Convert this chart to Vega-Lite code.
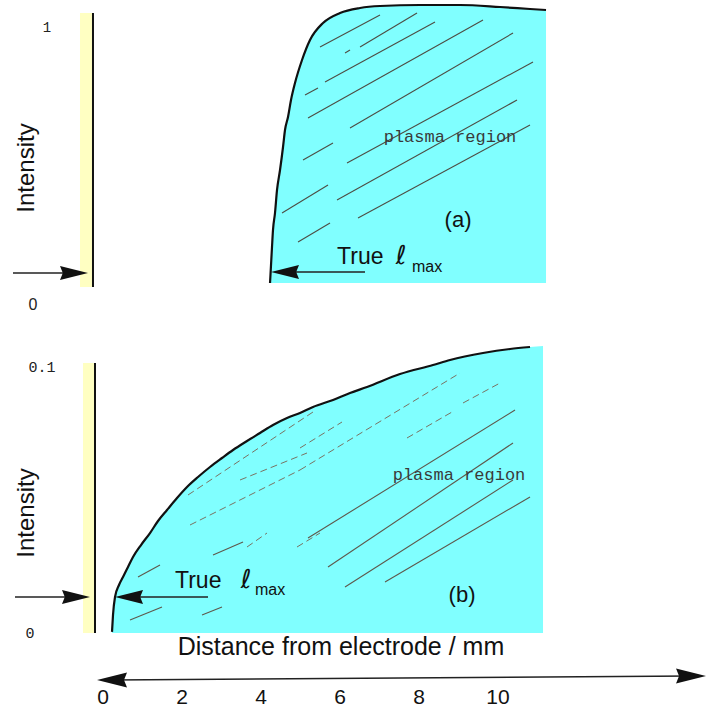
{
  "$schema": "https://vega.github.io/schema/vega-lite/v6.json",
  "padding": 0,
  "background": "white",
  "spacing": 0,
  "config": {"view": {"stroke": null}, "font": "Liberation Sans"},
  "datasets": {
    "topBar": [{"d": -0.570, "d2": -0.241, "i": 1.054, "i2": 0.065}],
    "topWall": [{"d": -0.241, "i": 1.054, "i2": 0.065}],
    "topCurve": [
      {"d": 4.241, "i": 0.0794}, {"d": 4.266, "i": 0.1444}, {"d": 4.291, "i": 0.2094}, {"d": 4.316, "i": 0.2708},
      {"d": 4.367, "i": 0.3321}, {"d": 4.418, "i": 0.4152}, {"d": 4.494, "i": 0.4874}, {"d": 4.570, "i": 0.5704},
      {"d": 4.620, "i": 0.6318}, {"d": 4.696, "i": 0.6787}, {"d": 4.772, "i": 0.7401}, {"d": 4.873, "i": 0.8014},
      {"d": 5.051, "i": 0.8845}, {"d": 5.253, "i": 0.9567}, {"d": 5.582, "i": 1.0181}, {"d": 6.013, "i": 1.0542},
      {"d": 6.519, "i": 1.0722}, {"d": 7.025, "i": 1.0794}, {"d": 8.038, "i": 1.0830}, {"d": 9.051, "i": 1.0830},
      {"d": 10.063, "i": 1.0758}, {"d": 10.823, "i": 1.0686}, {"d": 11.228, "i": 1.0650}
    ],
    "topHatch": [
      {"d": 5.5063, "i": 0.9314, "d2": 7.0253, "i2": 1.0469},
      {"d": 6.1392, "i": 0.9097, "d2": 6.2658, "i2": 0.9206},
      {"d": 6.5190, "i": 0.9314, "d2": 7.9620, "i2": 1.0542},
      {"d": 5.1266, "i": 0.7581, "d2": 5.4557, "i2": 0.7834},
      {"d": 5.6329, "i": 0.8051, "d2": 8.4177, "i2": 1.0217},
      {"d": 5.2025, "i": 0.6751, "d2": 9.6329, "i2": 1.0289},
      {"d": 6.2658, "i": 0.6390, "d2": 10.3924, "i2": 0.9819},
      {"d": 5.0759, "i": 0.5235, "d2": 5.8354, "i2": 0.5848},
      {"d": 6.1899, "i": 0.5126, "d2": 10.8987, "i2": 0.8773},
      {"d": 5.9367, "i": 0.3791, "d2": 10.4937, "i2": 0.7401},
      {"d": 4.5443, "i": 0.3321, "d2": 5.7089, "i2": 0.4332},
      {"d": 6.4684, "i": 0.3141, "d2": 10.8228, "i2": 0.6498},
      {"d": 4.9494, "i": 0.2274, "d2": 5.7595, "i2": 0.2960}
    ],
    "topArrowLines": [
      {"d": -2.266, "d2": -0.72, "i": 0.1155, "i2": 0.1155},
      {"d": 6.646, "d2": 4.62, "i": 0.1191, "i2": 0.1191}
    ],
    "topHeads": [
      {"d": -0.7215, "i": 0.1155, "dir": "right"},
      {"d": 4.620, "i": 0.1191, "dir": "left"}
    ],
    "bottomBar": [{"d": -0.494, "d2": -0.215, "i": 0.1015, "i2": 0.0}],
    "bottomWall": [{"d": -0.190, "i": 0.1015, "i2": 0.0}],
    "bottomCurve": [
      {"d": 0.2405, "i": 0.0004}, {"d": 0.2658, "i": 0.00677}, {"d": 0.3165, "i": 0.01353}, {"d": 0.4177, "i": 0.01805},
      {"d": 0.519, "i": 0.02105}, {"d": 0.6456, "i": 0.02481}, {"d": 0.7722, "i": 0.02857}, {"d": 0.9747, "i": 0.03308},
      {"d": 1.2025, "i": 0.03759}, {"d": 1.4051, "i": 0.04211}, {"d": 1.6329, "i": 0.04624}, {"d": 1.8861, "i": 0.05075},
      {"d": 2.1392, "i": 0.05489}, {"d": 2.4177, "i": 0.05865}, {"d": 2.7215, "i": 0.06241}, {"d": 3.0253, "i": 0.06579},
      {"d": 3.3038, "i": 0.0688}, {"d": 3.6582, "i": 0.07218}, {"d": 3.9873, "i": 0.07519}, {"d": 4.3165, "i": 0.0782},
      {"d": 4.6709, "i": 0.08083}, {"d": 5.0, "i": 0.08271}, {"d": 5.3291, "i": 0.08496}, {"d": 5.8354, "i": 0.08759},
      {"d": 6.2658, "i": 0.09023}, {"d": 6.6962, "i": 0.09248}, {"d": 7.5316, "i": 0.09737}, {"d": 8.3671, "i": 0.10075},
      {"d": 8.7975, "i": 0.10263}, {"d": 9.6329, "i": 0.10526}, {"d": 10.3165, "i": 0.10677}, {"d": 10.8228, "i": 0.10752},
      {"d": 11.1519, "i": 0.10789}
    ],
    "bottomHatchSolid": [
      {"d": 5.2025, "i": 0.03571, "d2": 10.4430, "i2": 0.08383},
      {"d": 5.7089, "i": 0.02481, "d2": 10.3924, "i2": 0.07143},
      {"d": 6.1392, "i": 0.01729, "d2": 10.3924, "i2": 0.05752},
      {"d": 7.1519, "i": 0.01917, "d2": 10.8228, "i2": 0.05113},
      {"d": 0.8987, "i": 0.02105, "d2": 1.4557, "i2": 0.02556},
      {"d": 0.6962, "i": 0.00489, "d2": 1.5063, "i2": 0.00977},
      {"d": 2.5190, "i": 0.00677, "d2": 3.0253, "i2": 0.00977},
      {"d": 2.7975, "i": 0.02932, "d2": 3.5570, "i2": 0.03421}
    ],
    "bottomHatchFaint": [
      {"d": 5.0, "i": 0.06128, "d2": 9.0506, "i2": 0.09774},
      {"d": 5.0, "i": 0.06955, "d2": 6.0633, "i2": 0.07932},
      {"d": 7.7089, "i": 0.07331, "d2": 8.8481, "i2": 0.08308},
      {"d": 9.1266, "i": 0.08647, "d2": 10.0633, "i2": 0.09398},
      {"d": 2.1646, "i": 0.05188, "d2": 5.3291, "i2": 0.08308},
      {"d": 2.2152, "i": 0.04060, "d2": 5.0, "i2": 0.06128},
      {"d": 3.6582, "i": 0.03233, "d2": 4.1646, "i2": 0.03759},
      {"d": 4.9241, "i": 0.03233, "d2": 5.5063, "i2": 0.03759},
      {"d": 3.4810, "i": 0.05752, "d2": 5.1772, "i2": 0.06767}
    ],
    "bottomArrowLines": [
      {"d": -2.215, "d2": -0.67, "i": 0.01353, "i2": 0.01353},
      {"d": 2.671, "d2": 0.67, "i": 0.01353, "i2": 0.01353},
      {"d": 0.2405, "d2": 14.899, "i": -0.01767, "i2": -0.01617}
    ],
    "bottomHeads": [
      {"d": -0.6709, "i": 0.01353, "dir": "right"},
      {"d": 0.6709, "i": 0.01353, "dir": "left"}
    ],
    "axisHeads": [
      {"d": 0.2405, "i": -0.01767, "dir": "left"},
      {"d": 14.899, "i": -0.01617, "dir": "right"}
    ]
  },
  "vconcat": [
    {
      "width": 706,
      "height": 320,
      "encoding": {
        "x": {"field": "d", "type": "quantitative", "scale": {"domain": [-2.595, 15.278], "nice": false, "zero": false}, "axis": null},
        "y": {"field": "i", "type": "quantitative", "scale": {"domain": [-0.05415, 1.10108], "nice": false, "zero": false}, "axis": null}
      },
      "layer": [
        {"data": {"name": "topBar"}, "mark": {"type": "rect", "fill": "#ffffc2"}, "encoding": {"x2": {"field": "d2"}, "y2": {"field": "i2"}}},
        {"data": {"name": "topWall"}, "mark": {"type": "rule", "stroke": "#111111", "strokeWidth": 2}, "encoding": {"y2": {"field": "i2"}}},
        {"data": {"name": "topCurve"}, "mark": {"type": "area", "fill": "#80ffff", "interpolate": "monotone"}, "encoding": {"y2": {"datum": 0.0794}}},
        {"data": {"name": "topCurve"}, "mark": {"type": "line", "stroke": "#111111", "strokeWidth": 2.2, "interpolate": "monotone"}, "encoding": {}},
        {"data": {"name": "topHatch"}, "mark": {"type": "rule", "stroke": "#4d4d44", "strokeWidth": 1.1}, "encoding": {"x2": {"field": "d2"}, "y2": {"field": "i2"}}},
        {"data": {"name": "topArrowLines"}, "mark": {"type": "rule", "stroke": "#222222", "strokeWidth": 1.3}, "encoding": {"x2": {"field": "d2"}, "y2": {"field": "i2"}}},
        {"data": {"name": "topHeads"}, "mark": {"type": "point", "filled": true, "fill": "#111111", "opacity": 1, "strokeWidth": 0, "size": 784},
          "encoding": {"shape": {"field": "dir", "type": "nominal", "scale": {"domain": ["left", "right"], "range": ["M-1,0L1,-0.5L0.8,0L1,0.5Z", "M1,0L-1,-0.5L-0.8,0L-1,0.5Z"]}, "legend": null}}},
        {"data": {"values": [{"d": -1.911, "i": 0.4946, "t": "Intensity"}]}, "mark": {"type": "text", "angle": 270, "fontSize": 24, "font": "Liberation Sans", "fill": "#111111"}, "encoding": {"text": {"field": "t"}}},
        {"data": {"values": [{"d": -1.405, "i": 1.0, "t": "1"}]}, "mark": {"type": "text", "fontSize": 14, "font": "Liberation Mono", "fill": "#222222"}, "encoding": {"text": {"field": "t"}}},
        {"data": {"values": [{"d": -1.759, "i": 0.0, "t": "0"}]}, "mark": {"type": "text", "fontSize": 16, "font": "Liberation Sans", "fill": "#222222"}, "encoding": {"text": {"field": "t"}}},
        {"data": {"values": [{"d": 5.937, "i": 0.1733, "t": "True"}]}, "mark": {"type": "text", "align": "left", "fontSize": 23, "font": "Liberation Sans", "fill": "#111111"}, "encoding": {"text": {"field": "t"}}},
        {"data": {"values": [{"d": 7.557, "i": 0.1769, "t": "ℓ"}]}, "mark": {"type": "text", "fontSize": 26, "fontStyle": "italic", "font": "DejaVu Sans", "fill": "#111111"}, "encoding": {"text": {"field": "t"}}},
        {"data": {"values": [{"d": 7.835, "i": 0.1372, "t": "max"}]}, "mark": {"type": "text", "align": "left", "fontSize": 16, "font": "Liberation Sans", "fill": "#111111"}, "encoding": {"text": {"field": "t"}}},
        {"data": {"values": [{"d": 9.0, "i": 0.3069, "t": "(a)"}]}, "mark": {"type": "text", "fontSize": 22, "font": "Liberation Sans", "fill": "#111111"}, "encoding": {"text": {"field": "t"}}},
        {"data": {"values": [{"d": 8.797, "i": 0.6065, "t": "plasma region"}]}, "mark": {"type": "text", "fontSize": 17, "font": "Liberation Mono", "fill": "#3a3a3a"}, "encoding": {"text": {"field": "t"}}}
      ]
    },
    {
      "width": 706,
      "height": 389,
      "encoding": {
        "x": {"field": "d", "type": "quantitative", "scale": {"domain": [-2.595, 15.278], "nice": false, "zero": false},
          "axis": {"orient": "bottom", "offset": -24, "values": [0, 2, 4, 6, 8, 10], "domain": false, "ticks": false, "grid": false,
            "labelFontSize": 21, "labelFont": "Liberation Sans", "labelColor": "#111111", "labelPadding": 1, "title": null, "labelFlush": false, "labelOverlap": false}},
        "y": {"field": "i", "type": "quantitative", "scale": {"domain": [-0.028571, 0.117669], "nice": false, "zero": false}, "axis": null}
      },
      "layer": [
        {"data": {"name": "bottomBar"}, "mark": {"type": "rect", "fill": "#ffffc2"}, "encoding": {"x2": {"field": "d2"}, "y2": {"field": "i2"}}},
        {"data": {"name": "bottomWall"}, "mark": {"type": "rule", "stroke": "#111111", "strokeWidth": 2}, "encoding": {"y2": {"field": "i2"}}},
        {"data": {"name": "bottomCurve"}, "mark": {"type": "area", "fill": "#80ffff", "interpolate": "monotone"}, "encoding": {"y2": {"datum": 0}}},
        {"data": {"name": "bottomCurve"}, "transform": [{"filter": "datum.d <= 10.83"}], "mark": {"type": "line", "stroke": "#111111", "strokeWidth": 2.2, "interpolate": "monotone"}, "encoding": {}},
        {"data": {"name": "bottomHatchSolid"}, "mark": {"type": "rule", "stroke": "#5e584c", "strokeWidth": 1.1}, "encoding": {"x2": {"field": "d2"}, "y2": {"field": "i2"}}},
        {"data": {"name": "bottomHatchFaint"}, "mark": {"type": "rule", "stroke": "#7a7262", "strokeWidth": 1, "strokeDash": [7, 4]}, "encoding": {"x2": {"field": "d2"}, "y2": {"field": "i2"}}},
        {"data": {"name": "bottomArrowLines"}, "mark": {"type": "rule", "stroke": "#222222", "strokeWidth": 1.3}, "encoding": {"x2": {"field": "d2"}, "y2": {"field": "i2"}}},
        {"data": {"name": "bottomHeads"}, "mark": {"type": "point", "filled": true, "fill": "#111111", "opacity": 1, "strokeWidth": 0, "size": 784},
          "encoding": {"shape": {"field": "dir", "type": "nominal", "scale": {"domain": ["left", "right"], "range": ["M-1,0L1,-0.5L0.8,0L1,0.5Z", "M1,0L-1,-0.5L-0.8,0L-1,0.5Z"]}, "legend": null}}},
        {"data": {"name": "axisHeads"}, "mark": {"type": "point", "filled": true, "fill": "#111111", "opacity": 1, "strokeWidth": 0, "size": 900},
          "encoding": {"shape": {"field": "dir", "type": "nominal", "scale": {"domain": ["left", "right"], "range": ["M-1,0L1,-0.55L0.8,0L1,0.55Z", "M1,0L-1,-0.55L-0.8,0L-1,0.55Z"]}, "legend": null}}},
        {"data": {"values": [{"d": -1.911, "i": 0.04511, "t": "Intensity"}]}, "mark": {"type": "text", "angle": 270, "fontSize": 24, "font": "Liberation Sans", "fill": "#111111"}, "encoding": {"text": {"field": "t"}}},
        {"data": {"values": [{"d": -1.532, "i": 0.1, "t": "0.1"}, {"d": -1.835, "i": 0.0, "t": "0"}]}, "mark": {"type": "text", "fontSize": 15, "font": "Liberation Mono", "fill": "#222222"}, "encoding": {"text": {"field": "t"}}},
        {"data": {"values": [{"d": 1.835, "i": 0.01955, "t": "True"}]}, "mark": {"type": "text", "align": "left", "fontSize": 23, "font": "Liberation Sans", "fill": "#111111"}, "encoding": {"text": {"field": "t"}}},
        {"data": {"values": [{"d": 3.633, "i": 0.01992, "t": "ℓ"}]}, "mark": {"type": "text", "fontSize": 26, "fontStyle": "italic", "font": "DejaVu Sans", "fill": "#111111"}, "encoding": {"text": {"field": "t"}}},
        {"data": {"values": [{"d": 3.861, "i": 0.01617, "t": "max"}]}, "mark": {"type": "text", "align": "left", "fontSize": 16, "font": "Liberation Sans", "fill": "#111111"}, "encoding": {"text": {"field": "t"}}},
        {"data": {"values": [{"d": 9.101, "i": 0.01429, "t": "(b)"}]}, "mark": {"type": "text", "fontSize": 22, "font": "Liberation Sans", "fill": "#111111"}, "encoding": {"text": {"field": "t"}}},
        {"data": {"values": [{"d": 9.025, "i": 0.0594, "t": "plasma region"}]}, "mark": {"type": "text", "fontSize": 17, "font": "Liberation Mono", "fill": "#3a3a3a"}, "encoding": {"text": {"field": "t"}}},
        {"data": {"values": [{"d": 6.038, "i": -0.00526, "t": "Distance from electrode / mm"}]}, "mark": {"type": "text", "fontSize": 25, "font": "Liberation Sans", "fill": "#111111"}, "encoding": {"text": {"field": "t"}}}
      ]
    }
  ]
}
